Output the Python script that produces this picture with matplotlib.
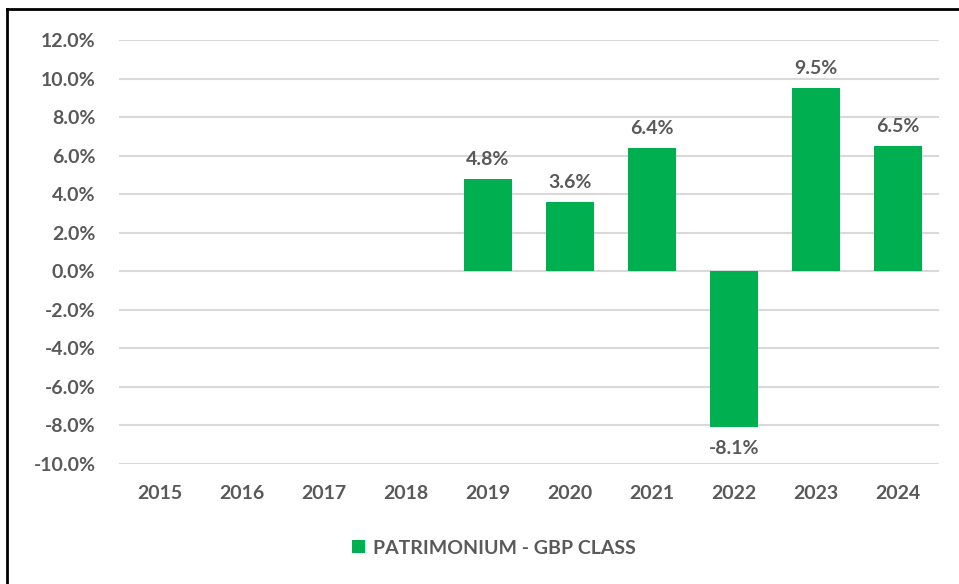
import matplotlib.pyplot as plt
import numpy as np
from matplotlib.lines import Line2D
from matplotlib.patches import Patch

plt.rcParams["font.family"] = ["Lato", "DejaVu Sans"]

# Chart data
years = ["2015", "2016", "2017", "2018", "2019",
         "2020", "2021", "2022", "2023", "2024"]
returns = [None, None, None, None, 4.8, 3.6, 6.4, -8.1, 9.5, 6.5]
series_name = "PATRIMONIUM - GBP CLASS"

green = "#00B050"
text_grey = "#595959"
font_size = 14

fig = plt.figure(figsize=(9.59, 5.84), dpi=100)
ax = fig.add_axes([119 / 959, 1 - 464 / 584, 820 / 959, 424 / 584])

x = np.arange(len(years))
values = [np.nan if v is None else v for v in returns]

ax.bar(x, values, width=0.58, color=green, zorder=3)

# Data labels
for xi, v in zip(x, returns):
    if v is None:
        continue
    if v >= 0:
        ax.annotate(f"{v:.1f}%", (xi, v), xytext=(0, 8),
                    textcoords="offset points", ha="center", va="bottom",
                    fontsize=font_size, fontweight="bold", color=text_grey)
    else:
        ax.annotate(f"{v:.1f}%", (xi, v), xytext=(0, -9),
                    textcoords="offset points", ha="center", va="top",
                    fontsize=font_size, fontweight="bold", color=text_grey)

ax.set_ylim(-10, 12)
ax.set_xlim(-0.5, len(years) - 0.5)
ax.set_yticks(np.arange(-10, 12.1, 2))
ax.set_yticklabels([f"{t:.1f}%" for t in np.arange(-10, 12.1, 2)])
ax.set_xticks(x)
ax.set_xticklabels(years)

ax.grid(axis="y", color="#D9D9D9", linewidth=1.5, zorder=0)
for spine in ax.spines.values():
    spine.set_visible(False)
ax.tick_params(length=0, labelsize=font_size, labelcolor=text_grey)
for lbl in ax.get_xticklabels() + ax.get_yticklabels():
    lbl.set_fontweight("bold")
ax.tick_params(axis="y", pad=17)
ax.tick_params(axis="x", pad=15)

# Legend
handle = Patch(facecolor=green, edgecolor="none")
fig.legend([handle], [series_name], loc="center",
           bbox_to_anchor=(494 / 959, 1 - 548 / 584), frameon=False,
           prop={"size": font_size, "weight": "bold"}, labelcolor=text_grey,
           handlelength=0.65, handleheight=0.65, handletextpad=0.45)

# Outer border (top and left visible)
fig.add_artist(Line2D([7 / 959, 1], [1 - 9 / 584, 1 - 9 / 584],
                      transform=fig.transFigure, color="black", linewidth=2))
fig.add_artist(Line2D([7 / 959, 7 / 959], [0, 1 - 9 / 584],
                      transform=fig.transFigure, color="black", linewidth=2))

fig.savefig("out.png", dpi=100)
